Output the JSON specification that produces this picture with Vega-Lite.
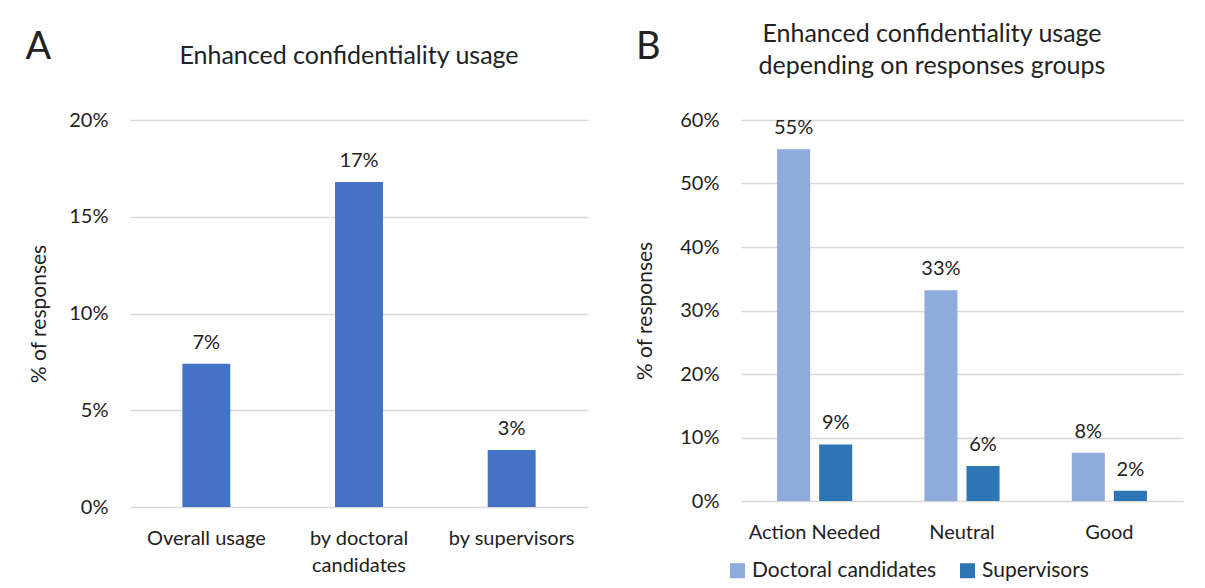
{
  "$schema": "https://vega.github.io/schema/vega-lite/v6.json",
  "background": "white",
  "autosize": {"type": "pad"},
  "padding": {"left": 25, "top": 22, "right": 20, "bottom": 5},
  "config": {
    "font": "Lato",
    "view": {"stroke": null},
    "axis": {"labelColor": "#222222", "titleColor": "#222222", "labelFont": "Lato", "titleFont": "Lato"},
    "legend": {"labelColor": "#222222", "labelFont": "Lato"},
    "title": {"font": "Lato", "color": "#222222", "fontWeight": "normal"}
  },
  "datasets": {
    "usage": [
      {"category": "Overall usage", "value": 0.074},
      {"category": "by doctoral candidates", "value": 0.168},
      {"category": "by supervisors", "value": 0.0295}
    ],
    "groups": [
      {"group": "Action Needed", "series": "Doctoral candidates", "value": 0.554},
      {"group": "Action Needed", "series": "Supervisors", "value": 0.089},
      {"group": "Neutral", "series": "Doctoral candidates", "value": 0.332},
      {"group": "Neutral", "series": "Supervisors", "value": 0.055},
      {"group": "Good", "series": "Doctoral candidates", "value": 0.076},
      {"group": "Good", "series": "Supervisors", "value": 0.016}
    ]
  },
  "bounds": "flush",
  "spacing": 153,
  "hconcat": [
    {
      "width": 458,
      "height": 387,
      "title": {"text": "Enhanced confidentiality usage", "fontSize": 25, "offset": -41, "anchor": "middle", "dx": -10},
      "data": {"name": "usage"},
      "resolve": {"axis": {"x": "independent"}},
      "layer": [
        {
          "mark": {"type": "bar", "color": "#4472C4"},
          "encoding": {
            "x": {
              "field": "category", "type": "nominal", "sort": null,
              "scale": {"paddingInner": 0.686, "paddingOuter": 0.343},
              "axis": {
                "title": null, "orient": "bottom", "domain": false, "ticks": false, "grid": false,
                "labelAngle": 0, "labelFontSize": 20, "labelPadding": 21, "labelBaseline": "top",
                "labelLineHeight": 27, "labelLimit": 300,
                "labelExpr": "datum.label == 'by doctoral candidates' ? ['by doctoral', 'candidates'] : datum.label"
              }
            },
            "y": {
              "field": "value", "type": "quantitative",
              "scale": {"domain": [0, 0.2]},
              "axis": {
                "title": "% of responses", "titleFontSize": 21, "titleFontWeight": "normal", "titlePadding": 19,
                "format": ".0%", "values": [0, 0.05, 0.1, 0.15, 0.2],
                "domain": false, "ticks": false, "labelPadding": 22, "labelFontSize": 20,
                "gridColor": "#D9D9D9", "gridWidth": 1.4
              }
            }
          }
        },
        {
          "mark": {"type": "text", "baseline": "alphabetic", "dy": -15, "fontSize": 20, "color": "#222222"},
          "encoding": {
            "x": {
              "field": "category", "type": "nominal", "sort": null,
              "axis": {
                "orient": "top", "labels": false, "ticks": false, "domain": false, "grid": false,
                "title": "A", "titleX": -105, "titleY": -62, "titleAlign": "left", "titleAngle": 0,
                "titleBaseline": "alphabetic", "titleFontSize": 38, "titleFontWeight": "normal"
              }
            },
            "y": {"field": "value", "type": "quantitative"},
            "text": {"field": "value", "format": ".0%"}
          }
        }
      ]
    },
    {
      "width": 442,
      "height": 381,
      "title": {"text": ["Enhanced confidentiality usage", "depending on responses groups"], "fontSize": 25, "lineHeight": 32, "offset": -51, "anchor": "middle", "dx": -30},
      "data": {"name": "groups"},
      "resolve": {"axis": {"x": "independent"}},
      "layer": [
        {
          "mark": {"type": "bar"},
          "encoding": {
            "x": {
              "field": "group", "type": "nominal", "sort": null,
              "scale": {"paddingInner": 0.49, "paddingOuter": 0.245},
              "axis": {
                "title": null, "orient": "bottom", "domain": false, "ticks": false, "grid": false,
                "labelAngle": 0, "labelFontSize": 20, "labelPadding": 21, "labelBaseline": "top", "labelLimit": 300
              }
            },
            "xOffset": {"field": "series", "type": "nominal", "sort": ["Doctoral candidates", "Supervisors"], "scale": {"paddingInner": 0.214}},
            "y": {
              "field": "value", "type": "quantitative",
              "scale": {"domain": [0, 0.6]},
              "axis": {
                "title": "% of responses", "titleFontSize": 21, "titleFontWeight": "normal", "titlePadding": 24,
                "format": ".0%", "values": [0, 0.1, 0.2, 0.3, 0.4, 0.5, 0.6],
                "domain": false, "ticks": false, "labelPadding": 22, "labelFontSize": 20,
                "gridColor": "#D9D9D9", "gridWidth": 1.4
              }
            },
            "color": {
              "field": "series", "type": "nominal",
              "scale": {"domain": ["Doctoral candidates", "Supervisors"], "range": ["#8FAADC", "#2E75B6"]},
              "legend": {
                "title": null, "orient": "none", "direction": "horizontal", "legendX": 597, "legendY": 440,
                "symbolType": "square", "symbolSize": 225, "symbolStrokeWidth": 0, "labelFontSize": 21,
                "labelOffset": 4, "columnPadding": 20, "labelLimit": 300
              }
            }
          }
        },
        {
          "mark": {"type": "text", "baseline": "alphabetic", "dy": -15, "fontSize": 20, "color": "#222222"},
          "encoding": {
            "x": {
              "field": "group", "type": "nominal", "sort": null,
              "axis": {
                "orient": "top", "labels": false, "ticks": false, "domain": false, "grid": false,
                "title": "B", "titleX": -105.5, "titleY": -62, "titleAlign": "left", "titleAngle": 0,
                "titleBaseline": "alphabetic", "titleFontSize": 38, "titleFontWeight": "normal"
              }
            },
            "xOffset": {"field": "series", "type": "nominal", "sort": ["Doctoral candidates", "Supervisors"]},
            "y": {"field": "value", "type": "quantitative"},
            "text": {"field": "value", "format": ".0%"}
          }
        }
      ]
    }
  ]
}
